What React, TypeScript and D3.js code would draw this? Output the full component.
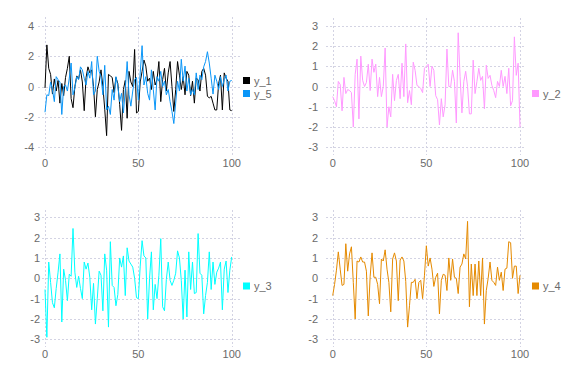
import React from "react";
import * as d3 from "d3";

const xs: number[] = d3.range(0, 101);

const y1: number[] = [
  -0.1, 2.75, 1.2, 0.8, -0.5, 0.5, -0.3, 0.4, -1.1, 0.2,
  -0.6, 0.6, 1.2, 2.0, -0.8, -1.4, 0.0, 0.7, 0.5, 1.1,
  0.3, -1.6, 0.6, 1.3, 0.9, 1.1, 0.0, -2.0, -0.2, 0.3,
  1.1, 0.0, -1.5, -3.25, 0.8, 0.7, 0.6, -0.4, 0.6, 0.2,
  -1.2, -2.9, -0.2, 0.4, -2.1, 1.0, 0.3, 0.0, 2.45,
  -1.75, -1.65, 0.3, 1.0,
  1.75, 1.35, 0.35, 0.55, -0.2, 1.0, 0.1, 0.45, 1.65, -1.0,
  0.45, 1.2, -0.3, 0.9, 1.65, 0.0, -1.65, -0.2, 1.65, 0.75,
  -0.2, 0.65, -0.55, 1.0, 0.75, -0.6, 0.35, -1.1, 0.55, 0.45,
  -0.3, 1.0, 1.2, 0.75, -0.65, -0.75, -0.65, -1.1, -1.55, -1.55,
  0.2, 0.75, -1.55, 0.9, 0.55, 0.35, -1.55,
  -1.6,
];

const y5: number[] = [
  -1.7, -0.55, -0.6, 0.3, -0.2, -1.0, 0.65, 0.45, 0.3, -1.85,
  0.0, 0.1, -0.3, 0.55, 1.55, -0.55, -0.1, 0.65, 0.45, 1.3,
  1.1, 0.55, 0.1, 1.0, 0.55, 1.65, -0.55, -0.3, 2.0, 1.0,
  0.65, -0.55, 1.4, -1.55, -1.3, -1.85, -0.2, -0.9, 0.65, 0.0,
  -1.0, -0.45, -1.75, -0.2, 1.65, -0.55, -1.3, -0.3, 0.45,
  0.6,
  -0.9, 0.9, 2.7, 0.1, 0.65, -0.45, -0.9, 1.1, -0.2, -1.55,
  0.65, 0.35, 1.0, 0.0, 0.35, -0.55, -0.2, -1.0, -1.65, -2.45,
  -1.1, 0.35, -0.3, 1.8, 0.35, 1.35, -0.3, 0.55, -0.55, -0.2,
  -0.55, 0.9, -0.2, 0.75, 0.45, 1.3, 1.65, 2.3, 1.55, 0.55,
  -0.5, 0.75, 0.35, -0.2, 0.65, 0.0, 0.45, 0.75, -0.3, 0.35,
  0.4,
];

const y2: number[] = [
  -0.5, -0.7, -1.0, 0.25, 0.1, -1.2, 0.45, -0.35, -0.15, -0.2,
  -0.3, -2.0, 0.6, 1.35, -1.6, 1.5, 0.3, 0.0, 0.2, 1.1,
  -0.2, 1.35, 0.7, 1.1, -0.5, 0.45, -0.5, 0.0, 1.9, -2.0,
  -1.0, -1.5, 0.6, -0.7, 0.3, 0.6, -0.6, 1.15, -0.5, 2.1,
  -0.8, -0.2, -0.9, 1.2, 0.8, 0.05, 0.0, -0.1, -0.3, 0.9,
  1.0, 1.1, 0.0, 1.0, 0.8, -0.45, -0.65, -1.9, -0.6, -1.5,
  -0.9, 1.85, 0.0, 0.0, 0.8, 0.25, -1.8, 2.65, 0.5, -1.3,
  0.25, 0.75, 0.0, -1.35, -1.35, 1.3, -0.35, 0.25, 0.9, 0.3,
  0.5, -1.1, 1.05, 0.4, 0.55, 0.05, -0.2, -0.55, 0.25, 0.0,
  0.8, 0.0, 0.5, -0.35, 0.9, -0.95, -0.7, 2.45, 0.55, 1.15,
  -2.0,
];

const y3: number[] = [
  -0.55, -2.9, 0.8, -0.2, -1.2, -1.45, -0.5, 0.3, 1.2, -2.15,
  0.45, -0.1, -1.1, 0.2, 0.1, 2.45, 0.3, -0.45, 0.1, -0.5,
  -1.0, 0.8, 0.45, 0.75, 0.05, -1.55, -0.25, -2.25, -1.0, 0.35,
  0.15, -1.6, 1.2, 0.4, -2.4, 1.8, -0.35, -0.45, -1.35, -0.8,
  1.0, 0.55, 1.1, -0.85, 1.5, 0.85, 0.7, 0.55, 0.0, -0.95,
  -1.0, 0.6, 1.85, 1.1, 1.0, -2.0, 0.0, 1.3, -1.55, -0.3,
  -1.0, 0.15, 1.95, -1.4, -1.6, -0.05, 0.8, -0.1, -0.35, -0.1,
  0.25, 1.35, 1.0, -0.1, -2.0, 0.4, -1.9, 1.3, -0.55, 0.8,
  -0.75, -0.7, 2.2, 0.25, 0.15, -1.75, -0.85, -0.2, 1.3, -0.55,
  0.8, -0.3, 0.3, 0.5, 0.8, -1.55, 0.45, 0.85, -0.7, 0.4,
  1.05,
];

const y4: number[] = [
  -0.85, -0.3, 0.4, 1.3, 0.45, -0.35, -0.3, 1.7, 0.35, 1.2,
  1.55, -0.2, -2.0, 0.85, 0.8, 1.05, 0.8, 0.8, 0.35, -1.85,
  0.1, 1.25, 0.05, 0.05, -0.3, -1.25, 0.95, 0.85, 1.4, 0.45,
  -0.2, -1.65, 0.95, 1.25, 0.85, -1.1, 0.9, 1.05, 0.85, -0.15,
  -2.4, -1.35, -0.2, -0.2, -0.05, -1.0, -0.2, -0.1, -1.0, 0.15,
  1.6,
  0.6, 1.0, 0.45, -0.4, 0.05, 0.25, -1.75, -0.1, 0.2, 0.15,
  -0.6, 1.0, -0.1, 0.95, 0.05, 0.0, -0.75, 0.55, 0.7, 1.2,
  0.95, 2.8, -1.4, 0.7, -0.85, 0.7, -0.85, 0.85, -0.85, 1.0,
  -2.25, -0.6, 0.0, 0.8, -0.1, -0.2, -0.35, 0.55, -0.1, 0.3,
  -0.6, 0.45, 0.5, 1.8, 1.75, 0.0, 0.6, 0.6, -0.75, 0.15,
];

const xTicks: number[] = [0, 50, 100];
const yTicksA: number[] = [-4, -2, 0, 2, 4];
const yTicksB: number[] = [-3, -2, -1, 0, 1, 2, 3];

type Series = { name: string; values: number[]; color: string };

type Panel = {
  series: Series[];
  yDomain: [number, number];
  yTicks: number[];
  xRange: [number, number];
  yRange: [number, number];
  box: { x0: number; x1: number; y0: number; y1: number };
  labelX: number;
  xLabelY: number;
  legendX: number;
  legendY: number;
};

const FONT = "'Liberation Sans', Arial, Helvetica, sans-serif";
const GRID = "#d3d3e3";
const TEXT = "#6a6a6a";

const panels: Panel[] = [
  {
    series: [
      { name: "y_1", values: y1, color: "#000000" },
      { name: "y_5", values: y5, color: "#0a96f8" },
    ],
    yDomain: [-4, 4],
    yTicks: yTicksA,
    xRange: [45, 231.7],
    yRange: [147, 26],
    box: { x0: 38, x1: 240, y0: 17, y1: 156 },
    labelX: 34,
    xLabelY: 167,
    legendX: 243,
    legendY: 87,
  },
  {
    series: [{ name: "y_2", values: y2, color: "#ff99ff" }],
    yDomain: [-3, 3],
    yTicks: yTicksB,
    xRange: [332.7, 520],
    yRange: [147.3, 25.7],
    box: { x0: 326, x1: 526, y0: 18, y1: 155 },
    labelX: 318,
    xLabelY: 167,
    legendX: 532,
    legendY: 93.5,
  },
  {
    series: [{ name: "y_3", values: y3, color: "#00ffff" }],
    yDomain: [-3, 3],
    yTicks: yTicksB,
    xRange: [45, 231.7],
    yRange: [339.3, 217.3],
    box: { x0: 42, x1: 240, y0: 210, y1: 347 },
    labelX: 40,
    xLabelY: 358,
    legendX: 243,
    legendY: 286,
  },
  {
    series: [{ name: "y_4", values: y4, color: "#e58a00" }],
    yDomain: [-3, 3],
    yTicks: yTicksB,
    xRange: [332.7, 520],
    yRange: [339.3, 217.3],
    box: { x0: 326, x1: 526, y0: 210, y1: 347 },
    labelX: 318,
    xLabelY: 358,
    legendX: 532,
    legendY: 286,
  },
];

function PanelView({ p }: { p: Panel }) {
  const x = d3.scaleLinear().domain([0, 100]).range(p.xRange);
  const y = d3.scaleLinear().domain(p.yDomain).range(p.yRange);
  const nSeries = p.series.length;
  return (
    <g>
      {xTicks.map((t) => (
        <line
          key={"vx" + t}
          x1={Math.round(x(t)) + 0.5}
          x2={Math.round(x(t)) + 0.5}
          y1={p.box.y0}
          y2={p.box.y1}
          stroke={GRID}
          strokeWidth={1}
          strokeDasharray="2,2"
        />
      ))}
      {p.yTicks.map((t) => (
        <line
          key={"hy" + t}
          x1={p.box.x0}
          x2={p.box.x1}
          y1={Math.round(y(t)) + 0.5}
          y2={Math.round(y(t)) + 0.5}
          stroke={GRID}
          strokeWidth={1}
          strokeDasharray="2,2"
        />
      ))}
      {p.yTicks.map((t) => (
        <text
          key={"ly" + t}
          x={p.labelX}
          y={y(t) + 4}
          textAnchor="end"
          fontSize={11}
          fontFamily={FONT}
          fill={TEXT}
        >
          {t}
        </text>
      ))}
      {xTicks.map((t) => (
        <text
          key={"lx" + t}
          x={x(t)}
          y={p.xLabelY}
          textAnchor="middle"
          fontSize={11}
          fontFamily={FONT}
          fill={TEXT}
        >
          {t}
        </text>
      ))}
      {p.series.map((s) => {
        const line = d3
          .line<number>()
          .x((_, i) => x(xs[i]))
          .y((v) => y(v));
        return (
          <path
            key={s.name}
            d={line(s.values) || ""}
            fill="none"
            stroke={s.color}
            strokeWidth={1}
            strokeLinejoin="round"
          />
        );
      })}
      {p.series.map((s, i) => {
        const cy = p.legendY + (i - (nSeries - 1) / 2) * 13;
        return (
          <g key={"lg" + s.name}>
            <rect x={p.legendX} y={cy - 3.5} width={7} height={7} fill={s.color} />
            <text
              x={p.legendX + 11}
              y={cy + 4}
              fontSize={11}
              fontFamily={FONT}
              fill={TEXT}
            >
              {s.name}
            </text>
          </g>
        );
      })}
    </g>
  );
}

export default function App() {
  return (
    <div style={{ position: "fixed", left: 0, top: 0, width: 576, height: 384, background: "#fff" }}>
      <svg width={576} height={384} viewBox="0 0 576 384">
        <rect x={0} y={0} width={576} height={384} fill="#ffffff" />
        {panels.map((p, i) => (
          <PanelView key={i} p={p} />
        ))}
      </svg>
    </div>
  );
}
